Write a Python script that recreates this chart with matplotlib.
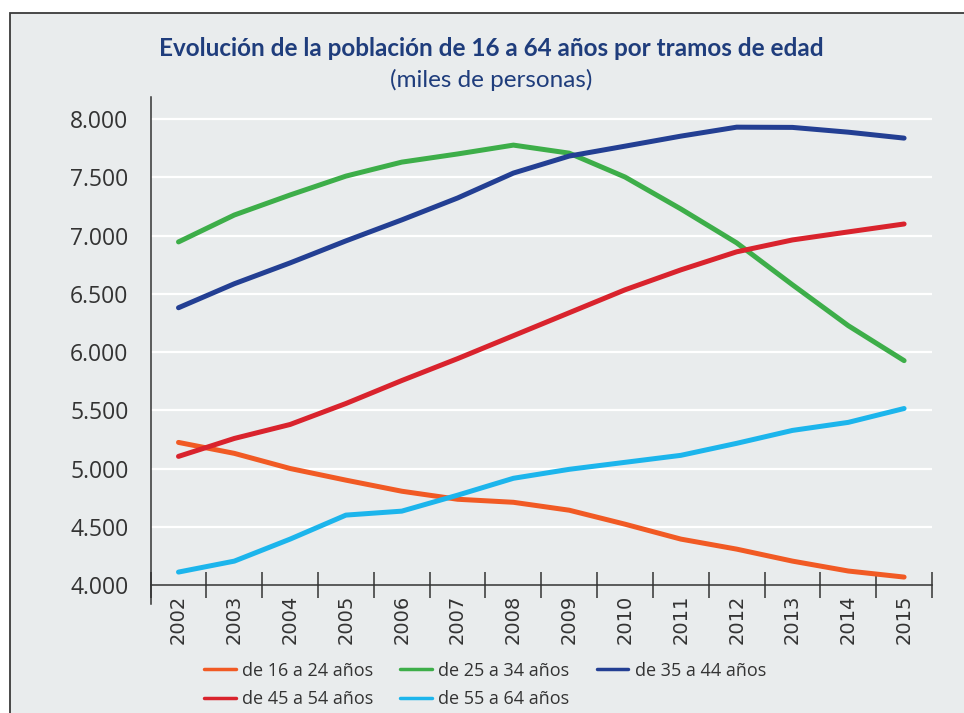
import numpy as np
import matplotlib
matplotlib.use("Agg")
import matplotlib.pyplot as plt
from matplotlib.patches import Rectangle

# ==========================================
# DATOS (miles de personas)
# ==========================================

anios = ["2002", "2003", "2004", "2005", "2006", "2007", "2008",
         "2009", "2010", "2011", "2012", "2013", "2014", "2015"]

edad_16_24 = [5224, 5130, 5000, 4900, 4805, 4736, 4710,
              4642, 4522, 4394, 4308, 4205, 4120, 4068]
edad_25_34 = [6945, 7176, 7348, 7510, 7630, 7700, 7776,
              7707, 7502, 7228, 6937, 6577, 6226, 5926]
edad_35_44 = [6380, 6586, 6765, 6954, 7134, 7322, 7536,
              7682, 7767, 7853, 7930, 7928, 7887, 7836]
edad_45_54 = [5104, 5258, 5378, 5558, 5755, 5943, 6140,
              6337, 6534, 6705, 6860, 6962, 7031, 7099]
edad_55_64 = [4111, 4205, 4394, 4600, 4634, 4771, 4916,
              4993, 5053, 5113, 5216, 5327, 5396, 5515]

series = [
    ("de 16 a 24 años", edad_16_24, "#F15A24"),
    ("de 25 a 34 años", edad_25_34, "#3DAE49"),
    ("de 35 a 44 años", edad_35_44, "#233F93"),
    ("de 45 a 54 años", edad_45_54, "#D9232D"),
    ("de 55 a 64 años", edad_55_64, "#1CB5EC"),
]

y_ticks = [4000, 4500, 5000, 5500, 6000, 6500, 7000, 7500, 8000]

FONDO = "#E9ECED"
AZUL_TITULO = "#1F3D7C"
EJE = "#333333"

# ==========================================
# FIGURA
# ==========================================

fig = plt.figure(figsize=(9.64, 7.13), dpi=100)
fig.patch.set_facecolor("white")

# panel gris con borde
W, H = 964, 713
fig.patches.append(Rectangle((9.5 / W, -0.01), 1.0, (H - 13) / H + 0.01,
                             transform=fig.transFigure, facecolor=FONDO,
                             edgecolor="#3a3a3a", linewidth=1.3, zorder=-10))

ax = fig.add_axes([150.6 / W, 128 / H, (932 - 150.6) / W, (585 - 97) / H])
ax.set_facecolor(FONDO)

x = np.arange(len(anios))

lineas = []
for etiqueta, valores, color in series:
    l, = ax.plot(x, valores, color=color, linewidth=3.6, label=etiqueta,
                 solid_capstyle="round", solid_joinstyle="round", zorder=3)
    lineas.append(l)

ax.set_xlim(-0.5, len(anios) - 0.5)
ax.set_ylim(4000, 8189)

ax.set_yticks(y_ticks)
ax.set_yticklabels([f"{v:,}".replace(",", ".") for v in y_ticks],
                   fontsize=16.5, family="Open Sans", color="#333333")
ax.tick_params(axis="y", length=0, pad=16)

for v in y_ticks[1:]:
    ax.axhline(v, color="white", linewidth=1.6, zorder=1)

# marcas en los límites de cada categoría
ax.set_xticks(np.arange(len(anios) + 1) - 0.5)
ax.set_xticklabels([])
ax.tick_params(axis="x", which="major", direction="inout", length=19,
               width=1.1, color=EJE)
ax.set_xticks(x, minor=True)
ax.set_xticklabels(anios, minor=True, rotation=90, fontsize=14,
                   family="DejaVu Sans", color="#333333")
ax.tick_params(axis="x", which="minor", length=0, pad=7)

for lado in ["top", "right"]:
    ax.spines[lado].set_visible(False)
ax.spines["left"].set_color(EJE)
ax.spines["bottom"].set_color(EJE)
ax.spines["left"].set_linewidth(1.1)
ax.spines["bottom"].set_linewidth(1.1)
ax.spines["left"].set_bounds(3835, 8189)

# ==========================================
# TÍTULO
# ==========================================

fig.text(491 / W, 1 - 48 / H,
         "Evolución de la población de 16 a 64 años por tramos de edad",
         ha="center", va="center", fontsize=17.5, fontweight="bold",
         family="Lato", color=AZUL_TITULO)
fig.text(491 / W, 1 - 80 / H, "(miles de personas)",
         ha="center", va="center", fontsize=17.5,
         family="Lato", color=AZUL_TITULO)

# ==========================================
# LEYENDA (orden por filas)
# ==========================================

orden = [0, 3, 1, 4, 2]
leg = fig.legend([lineas[i] for i in orden], [series[i][0] for i in orden],
                 loc="center", bbox_to_anchor=(485 / W, 1 - 685 / H),
                 ncol=3, frameon=False, prop={"family": "Open Sans", "size": 13},
                 handlelength=1.75, handletextpad=0.35, columnspacing=1.5,
                 labelspacing=0.6)
for linea in leg.get_lines():
    linea.set_linewidth(2.5)
for t in leg.get_texts():
    t.set_color("#333333")

plt.savefig("out.png", dpi=100, facecolor=fig.get_facecolor())
plt.close()
